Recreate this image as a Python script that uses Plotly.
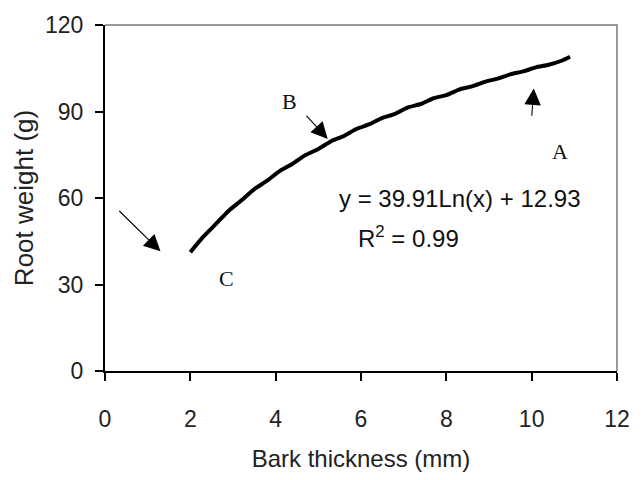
import plotly.graph_objects as go

# Data (bark thickness mm vs root weight g)
bark_mm = [2.0, 2.3, 2.6, 2.9, 3.2, 3.5, 3.8, 4.1, 4.4, 4.7, 5.0, 5.3, 5.6, 5.9, 6.2, 6.5,
           6.8, 7.1, 7.4, 7.7, 8.0, 8.3, 8.6, 8.9, 9.2, 9.5, 9.8, 10.1, 10.4, 10.7, 10.9]
root_g = [41.2, 46.5, 51.0, 55.6, 59.2, 63.1, 66.0, 69.4, 71.9, 74.9, 77.0, 79.7, 81.5, 84.0,
          85.6, 87.8, 89.2, 91.4, 92.6, 94.6, 95.7, 97.6, 98.7, 100.3, 101.4, 102.9, 103.9,
          105.3, 106.2, 107.6, 109.0]

x_ticks = [0, 2, 4, 6, 8, 10, 12]
y_ticks = [0, 30, 60, 90, 120]

equation_text = "y = 39.91Ln(x) + 12.93"
r2_text = "R<sup>2</sup> = 0.99"

# label positions (data coords) and arrows (tail -> head)
labels = {"A": (10.66, 76), "B": (4.32, 93.5), "C": (2.84, 32)}
arrows = [((0.30, 56.0), (1.30, 41.5)),
          ((4.69, 89.0), (5.22, 80.5)),
          ((10.0, 88.0), (10.05, 98.0))]

fig = go.Figure()
fig.add_trace(go.Scatter(x=bark_mm, y=root_g, mode="lines",
                         line=dict(color="black", width=4, shape="spline", smoothing=0.6),
                         showlegend=False, hoverinfo="skip"))

font_main = "Liberation Sans, Arial, sans-serif"
for k, (lx, ly) in labels.items():
    fig.add_annotation(x=lx, y=ly, text=k, showarrow=False,
                       font=dict(family="Liberation Serif, Times New Roman, serif",
                                 size=22, color="#111"))
for (tx, ty), (hx, hy) in arrows:
    fig.add_annotation(x=hx, y=hy, ax=tx, ay=ty, axref="x", ayref="y",
                       xref="x", yref="y", text="", showarrow=True,
                       arrowhead=2, arrowsize=3, arrowwidth=1.1, arrowcolor="black")

fig.add_annotation(x=8.32, y=59.7, text=equation_text, showarrow=False,
                   font=dict(family=font_main, size=24, color="#111"))
fig.add_annotation(x=7.12, y=46.6, text=r2_text, showarrow=False,
                   font=dict(family=font_main, size=24, color="#111"))

# gray plot-area border (top and right)
fig.add_shape(type="path", path="M 0,1 L 1,1 L 1,0", xref="paper", yref="paper",
              line=dict(color="#9a9a9a", width=2))

axis_common = dict(showgrid=False, zeroline=False, showline=True, linecolor="black",
                   linewidth=2, ticks="outside", ticklen=8, tickwidth=2, tickcolor="black",
                   tickfont=dict(family=font_main, size=23, color="#222"))

fig.update_xaxes(range=[0, 12], tickvals=x_ticks, ticklabelstandoff=18,
                 title=dict(text="Bark thickness (mm)", standoff=20,
                            font=dict(family=font_main, size=24, color="#222")),
                 **axis_common)
fig.update_yaxes(range=[0, 120], tickvals=y_ticks, ticklabelstandoff=7,
                 title=dict(text="Root weight (g)", standoff=4,
                            font=dict(family=font_main, size=26, color="#222")),
                 **axis_common)

fig.update_layout(width=642, height=480, margin=dict(l=105, r=18, t=25, b=107),
                  plot_bgcolor="white", paper_bgcolor="white")

fig.write_html("out.html")
